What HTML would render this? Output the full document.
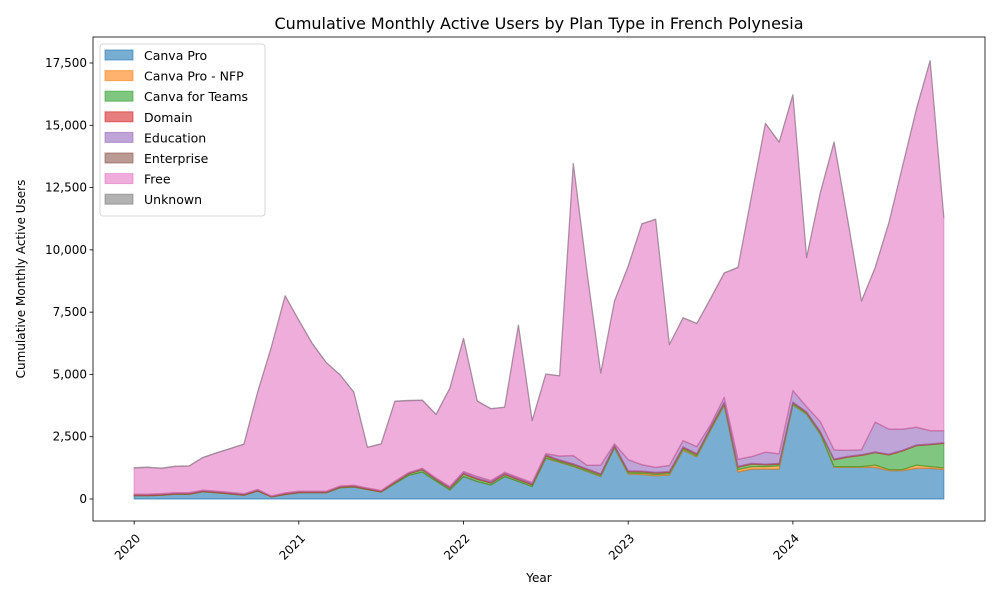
<!DOCTYPE html>
<html><head><meta charset="utf-8"><style>
body{margin:0;background:#fff;font-family:"Liberation Sans","DejaVu Sans",sans-serif}
svg text{font-family:"DejaVu Sans","Liberation Sans",sans-serif;fill:#000}
</style></head><body>
<svg id="chart" width="1000" height="600" viewBox="0 0 1000 600">
<rect x="0" y="0" width="1000" height="600" fill="#fff"/>
<text x="539" y="29" font-size="16" text-anchor="middle">Cumulative Monthly Active Users by Plan Type in French Polynesia</text>
<g id="areas"></g>
<g id="axes"></g>
<g id="legend"></g>
<text x="539" y="582" font-size="12" text-anchor="middle">Year</text>
<text transform="translate(25,279) rotate(-90)" font-size="12" text-anchor="middle">Cumulative Monthly Active Users</text>
</svg>
<script>
const seriesNames=["Canva Pro","Canva Pro - NFP","Canva for Teams","Domain","Education","Enterprise","Free","Unknown"];
const seriesColors=["#1f77b4","#ff7f0e","#2ca02c","#d62728","#9467bd","#8c564b","#e377c2","#7f7f7f"];
const canvaPro=[130,130,150,190,190,290,250,200,150,320,80,180,250,250,250,450,480,380,280,620,950,1080,720,360,900,700,560,900,700,500,1630,1470,1300,1100,900,2050,1000,980,930,960,1960,1690,2750,3750,1080,1200,1200,1200,3780,3400,2600,1270,1270,1270,1270,1140,1140,1230,1230,1190];
const canvaProNfp=[0,0,0,0,0,0,0,0,0,0,0,0,0,0,0,0,0,0,0,0,0,0,0,0,0,0,0,0,0,0,20,20,20,20,20,20,40,50,50,50,40,40,40,40,100,100,100,130,20,20,20,30,30,30,90,40,40,130,70,60];
const canvaTeams=[10,10,10,10,10,10,10,10,10,10,10,10,10,10,10,20,20,10,10,40,60,90,60,70,100,90,80,80,70,70,80,50,60,60,60,50,60,60,60,60,60,60,60,60,100,100,70,70,60,50,60,270,380,450,500,590,750,780,880,980];
const domain=[30,30,30,30,30,30,30,30,30,30,20,30,30,30,30,30,30,30,30,30,30,30,30,30,40,40,40,40,40,40,40,30,30,30,30,30,30,30,30,30,30,30,30,30,30,30,30,30,30,30,30,30,30,30,30,30,30,30,30,30];
const education=[20,20,20,20,20,20,20,20,20,20,10,20,20,20,20,20,20,20,20,20,20,30,30,40,60,70,60,50,50,50,50,150,330,140,350,60,450,250,200,240,250,280,100,200,280,270,480,380,460,200,390,370,240,190,1190,1000,840,710,530,480];
const enterprise=[5,5,5,5,5,5,5,5,5,5,5,5,5,5,5,5,5,5,5,5,5,5,5,5,5,5,5,5,5,5,5,5,5,5,5,5,5,5,5,5,5,5,5,5,5,5,5,5,5,5,5,5,5,5,5,5,5,5,5,5];
const free=[1055,1075,1015,1055,1065,1305,1535,1755,1985,3905,5975,7905,6855,5905,5155,4455,3735,1625,1865,3205,2885,2725,2545,3935,5335,3025,2875,2605,6105,2475,3185,3215,11715,7735,3685,5725,7755,9665,9945,4845,4925,4935,5055,4985,7695,10485,13185,12505,11865,5985,9185,12345,9235,5965,6205,8285,10565,12755,14845,8545];
const unknown=[10,10,10,10,10,10,10,10,10,10,10,10,10,10,10,10,10,10,10,10,10,10,10,10,10,10,10,10,10,10,10,10,10,10,10,10,10,10,10,10,10,10,10,10,10,10,10,10,10,10,10,10,10,10,10,10,10,10,10,10];
const yTicks=[0,2500,5000,7500,10000,12500,15000,17500];
const yTickLabels=["0","2,500","5,000","7,500","10,000","12,500","15,000","17,500"];
const xTickMonths=[0,12,24,36,48];
const xTickLabels=["2020","2021","2022","2023","2024"];

const series=[canvaPro,canvaProNfp,canvaTeams,domain,education,enterprise,free,unknown];
const L=93,R=985,T=37,B=521;
const xMin=-3,xMax=62,yMin=-883,yMax=18544;
const xs=i=>L+(i-xMin)/(xMax-xMin)*(R-L);
const ys=v=>B-(v-yMin)/(yMax-yMin)*(B-T);
const NS="http://www.w3.org/2000/svg";
function mk(tag,attrs,parent){const e=document.createElementNS(NS,tag);for(const k in attrs)e.setAttribute(k,attrs[k]);parent.appendChild(e);return e;}
const areas=document.getElementById('areas');
const n=canvaPro.length;
let base=new Array(n).fill(0);
series.forEach((s,si)=>{
  const top=base.map((b,i)=>b+s[i]);
  let d="M"+xs(0)+","+ys(top[0]);
  for(let i=1;i<n;i++)d+="L"+xs(i)+","+ys(top[i]);
  for(let i=n-1;i>=0;i--)d+="L"+xs(i)+","+ys(base[i]);
  d+="Z";
  const p=mk('path',{d:d,fill:seriesColors[si],'fill-opacity':0.6,stroke:seriesColors[si],'stroke-opacity':0.6,'stroke-width':1.2,'stroke-linejoin':'round'},areas);
  
  
  base=top;
});
const axes=document.getElementById('axes');
const frame=mk('rect',{x:L,y:T,width:R-L,height:B-T,fill:'none',stroke:'#000','stroke-width':0.8},axes);


yTicks.forEach((v,k)=>{
  const y=ys(v);
  const t=mk('line',{x1:L-3.5,x2:L,y1:y,y2:y,stroke:'#000','stroke-width':0.8},axes);
  
  
  const tx=mk('text',{x:L-6,y:y+4,'font-size':12,'text-anchor':'end'},axes);
  tx.textContent=yTickLabels[k];
  
  
});
xTickMonths.forEach((m,k)=>{
  const x=xs(m);
  const t=mk('line',{x1:x,x2:x,y1:B,y2:B+3.5,stroke:'#000','stroke-width':0.8},axes);
  
  
  const tx=mk('text',{transform:`translate(${x+7},${B+18}) rotate(-45)`,'font-size':12,'text-anchor':'end'},axes);
  tx.textContent=xTickLabels[k];
  
  
});
const lg=document.getElementById('legend');
const box=mk('rect',{x:100,y:44,width:165,height:172,rx:3,fill:'#fff','fill-opacity':0.8,stroke:'#ccc','stroke-width':0.8},lg);


seriesNames.forEach((nm,k)=>{
  const y=50+k*20.6;
  const r=mk('rect',{x:105,y:y,width:28,height:10,fill:seriesColors[k],'fill-opacity':0.6,stroke:seriesColors[k],'stroke-opacity':0.6},lg);
  
  
  const t=mk('text',{x:144,y:y+10,'font-size':12.5},lg);
  t.textContent=nm;
  
  
});
</script>
</body></html>
